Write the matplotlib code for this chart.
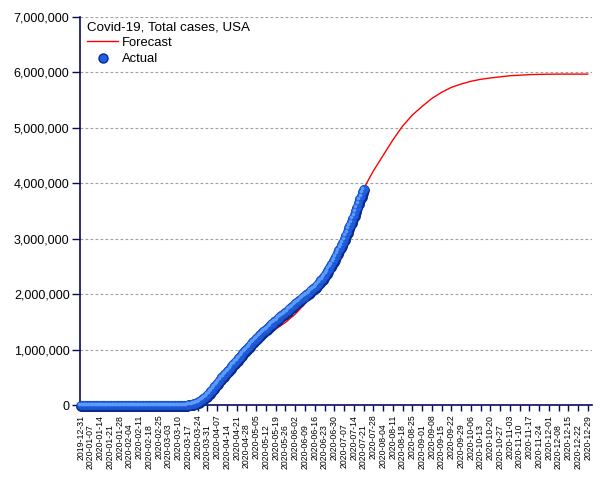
import matplotlib
matplotlib.use("Agg")
import matplotlib.pyplot as plt
import matplotlib.transforms as mtransforms
import pandas as pd

plt.rcParams["font.family"] = ["Liberation Sans", "DejaVu Sans"]

# actual cumulative cases, one value per day from 2019-12-31
actual_start = "2019-12-31"
actual_cases = (
    [0] * 21
    + [1, 1, 1, 2, 2, 5, 5, 5, 5, 6, 7]
    + [8, 8, 11, 11, 11, 12, 12, 12, 12, 12, 13, 13, 14, 14, 14, 14, 14, 14,
       14, 14, 15, 15, 15, 51, 51, 57, 58, 60, 68]
    + [74, 98, 118, 149, 217, 262, 402, 518, 583, 959, 1281, 1663, 2179, 2727,
       3499, 4632, 6421, 7783, 13747, 19273, 25600, 33276, 43847, 53740, 65778,
       83836, 101657, 121465, 140909, 161831, 188172]
    + [213242, 243622, 275367, 308650, 336802, 366317, 397121, 428654, 462780,
       496535, 526396, 555313, 580619, 607670, 636350, 667592, 699706, 732197,
       758809, 784326, 811865, 840351, 869170, 905358, 938154, 965785, 988197,
       1012582, 1039909, 1069424]
    + [1103461, 1132539, 1158040, 1180375, 1204351, 1229331, 1257023, 1283929,
       1309550, 1329260, 1347881, 1369376, 1390406, 1417774, 1442824, 1467820,
       1486757, 1508308, 1528568, 1551853, 1577147, 1600937, 1622612, 1643246,
       1662302, 1680913, 1699933, 1721750, 1746019, 1770384, 1790191]
    + [1811277, 1831821, 1851520, 1872660, 1897380, 1920061, 1938823, 1956421,
       1973797, 1994283, 2016027, 2041026, 2066508, 2085486, 2104346, 2127743,
       2153632, 2181575, 2213559, 2246182, 2273707, 2304061, 2339868, 2377224,
       2417559, 2462497, 2505122, 2546664, 2590806, 2636538]
    + [2687588, 2742049, 2795361, 2841241, 2891124, 2936077, 2996098, 3054699,
       3117946, 3185737, 3245925, 3304942, 3364157, 3431574, 3499398, 3576157,
       3647715, 3711413, 3773260, 3834677, 3899211]
)

# forecast, one value per week (Tuesdays) from 2020-03-03
forecast_start = "2020-03-03"
forecast_cases = [
    100, 1000, 8000, 90000, 230000, 450000, 670000, 900000, 1060000,
    1180000, 1265000, 1370000, 1490000, 1640000, 1830000, 2090000, 2350000,
    2630000, 2990000, 3430000, 3900000, 4220000, 4500000, 4780000, 5030000,
    5230000, 5385000, 5530000, 5640000, 5730000, 5790000, 5840000, 5875000,
    5900000, 5920000, 5940000, 5950000, 5960000, 5965000, 5968000, 5970000,
    5970000, 5970000, 5970000,
]

title = "Covid-19, Total cases, USA"
y_ticks = [0, 1000000, 2000000, 3000000, 4000000, 5000000, 6000000, 7000000]
x_tick_start, x_tick_end = "2019-12-31", "2020-12-29"

actual_dates = pd.date_range(actual_start, periods=len(actual_cases), freq="D")
forecast_dates = pd.date_range(forecast_start, periods=len(forecast_cases), freq="7D")
tick_dates = pd.date_range(x_tick_start, x_tick_end, freq="7D")

navy = "#0a0a5a"

fig = plt.figure(figsize=(6.05, 4.8), dpi=100)
ax = fig.add_axes([80 / 605, 1 - 405 / 480, 512 / 605, 388 / 480])

ax.plot(forecast_dates, forecast_cases, color="#ff0000", lw=1.0, zorder=2,
        label="Forecast")

# shaded "sphere" markers: dark rim shifted down-right, body, highlight up-left
shift_dark = ax.transData + mtransforms.ScaledTranslation(0.8 / 100, -0.8 / 100, fig.dpi_scale_trans)
shift_light = ax.transData + mtransforms.ScaledTranslation(-1.2 / 100, 1.2 / 100, fig.dpi_scale_trans)
ax.plot(actual_dates, actual_cases, ls="none", marker="o", ms=6.8, mfc="#0b2a8c",
        mec="#0b2a8c", transform=shift_dark, zorder=3, clip_on=False)
ax.plot(actual_dates, actual_cases, ls="none", marker="o", ms=6.2, mfc="#1f5fe0",
        mec="#1c4fc0", mew=0.4, zorder=4, clip_on=False)
ax.plot(actual_dates, actual_cases, ls="none", marker="o", ms=2.6, mfc="#5b9bff",
        mec="none", transform=shift_light, zorder=5, clip_on=False)

ax.set_xlim(pd.Timestamp("2019-12-31") - pd.Timedelta(hours=12),
            pd.Timestamp("2021-01-01"))
ax.set_ylim(0, 7000000)

ax.set_yticks(y_ticks)
ax.set_yticklabels([f"{v:,}" for v in y_ticks], fontsize=9, color="black")

# staggered date labels: even ones on major ticks, odd ones on minor ticks further down
ax.set_xticks(tick_dates[::2])
ax.set_xticklabels([d.strftime("%Y-%m-%d") for d in tick_dates[::2]],
                   rotation=90, fontsize=6.3, color="black")
ax.set_xticks(tick_dates[1::2], minor=True)
ax.set_xticklabels([d.strftime("%Y-%m-%d") for d in tick_dates[1::2]],
                   minor=True, rotation=90, fontsize=6.3, color="black")

ax.grid(axis="y", color="#a0a0a0", ls=(0, (2.5, 2)), lw=0.8)
ax.set_axisbelow(True)
for s in ["top", "right"]:
    ax.spines[s].set_visible(False)
for s in ["left", "bottom"]:
    ax.spines[s].set_color(navy)
    ax.spines[s].set_linewidth(1.2)
ax.tick_params(axis="y", colors=navy, labelcolor="black", length=5.5, width=1.0, pad=2)
ax.tick_params(axis="x", which="major", colors=navy, labelcolor="black",
               length=4.5, width=1.0, pad=2.5)
ax.tick_params(axis="x", which="minor", colors=navy, labelcolor="black",
               length=4.5, width=1.0, pad=9)

# legend handles
ax.plot([], [], ls="none", marker="o", ms=6.5, mfc="#1f5fe0", mec="#0b2a8c",
        label="Actual")
handles, labels = ax.get_legend_handles_labels()
handles = [handles[0], handles[-1]]
labels = [labels[0], labels[-1]]
leg = ax.legend(handles, labels, title=title, loc="upper left", frameon=False,
                fontsize=9.4, title_fontsize=9.6, handlelength=2.4,
                handletextpad=0.3, borderaxespad=0, borderpad=0,
                labelspacing=0.3, bbox_to_anchor=(7 / 512, 1 - 4 / 388))
leg._legend_box.align = "left"

fig.savefig("out.png", dpi=100)
